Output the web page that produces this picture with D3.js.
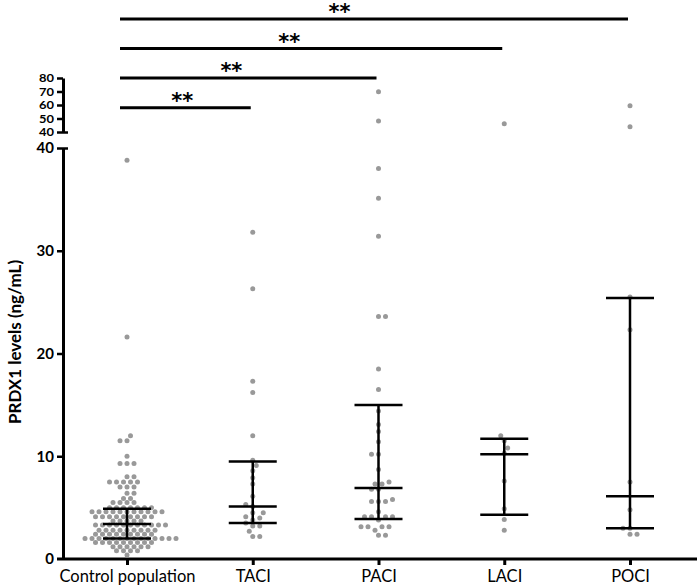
<!DOCTYPE html>
<html>
<head>
<meta charset="utf-8">
<script src="https://cdnjs.cloudflare.com/ajax/libs/d3/7.8.5/d3.min.js"></script>
<style>
  body { margin: 0; background: #fff; }
  text { font-family: Lato, "Liberation Sans", sans-serif; fill: #000; }
</style>
</head>
<body>
<div id="chart"></div>
<script>
var groups = ["Control population", "TACI", "PACI", "LACI", "POCI"];

var controlVals = [38.8, 21.6, 12.0, 11.5, 11.5, 10.0, 9.3, 9.3, 9.3, 8.0, 8.0,
  7.5, 7.5, 7.5, 7.5, 7.5, 7.0, 7.0, 7.0, 6.4, 6.4, 5.9, 5.9, 5.5, 5.5, 5.5, 5.5,
  5.0, 5.0, 5.0, 5.0, 5.0, 5.0, 5.0,
  4.6, 4.6, 4.6, 4.6, 4.6, 4.6, 4.6, 4.6, 4.6, 4.6, 4.6,
  4.1, 4.1, 4.1, 4.1, 4.1, 4.1, 4.1, 4.1, 4.1,
  3.7, 3.7, 3.7, 3.7, 3.7,
  3.3, 3.3, 3.3, 3.3, 3.3, 3.3, 3.3, 3.3, 3.3, 3.3, 3.3,
  2.8, 2.8, 2.8, 2.8, 2.8, 2.8, 2.8, 2.8, 2.8,
  2.4, 2.4, 2.4, 2.4, 2.4, 2.4, 2.4, 2.4, 2.4,
  2.0, 2.0, 2.0, 2.0, 2.0, 2.0, 2.0, 2.0, 2.0, 2.0, 2.0, 2.0, 2.0, 2.0,
  1.6, 1.6, 1.6, 1.6, 1.6, 1.6, 1.6, 1.6, 1.6,
  1.2, 1.2, 1.2, 1.2, 1.2, 1.2,
  0.8, 0.8, 0.8, 0.8, 0.4];
var taciVals = [31.8, 26.3, 17.3, 16.2, 12.0, 9.6, 9.1, 8.6, 7.9, 7.3, 6.1, 5.3, 5.1,
  4.5, 4.5, 4.1, 4.0, 3.8, 3.5, 3.2, 3.2, 2.7, 2.2, 2.2];
var paciVals = [69.9, 48.1, 38.0, 35.1, 31.4, 23.6, 23.6, 18.5, 16.5, 14.4, 13.1, 12.4,
  11.4, 10.2, 10.2, 8.7, 7.5, 7.3, 7.3, 6.8, 6.8, 5.8, 5.6, 5.6, 5.6, 4.6,
  4.1, 4.1, 4.1, 4.1, 3.8, 3.15, 3.15, 3.15, 3.15, 2.8, 2.3, 2.3];
var laciVals = [46.1, 12.0, 11.5, 10.8, 10.3, 7.6, 4.9, 3.85, 2.8];
var pociVals = [59.5, 43.9, 25.5, 22.3, 7.5, 4.8, 3.0, 3.0, 2.4, 2.4];

// median and interquartile range shown as error bars
var medians = [3.4, 5.1, 6.9, 10.2, 6.1];
var q1s = [2.0, 3.5, 3.9, 4.3, 3.0];
var q3s = [4.9, 9.5, 15.0, 11.7, 25.4];

// broken y axis
var lowTicks = [0, 10, 20, 30, 40];
var highTicks = [40, 50, 60, 70, 80];

// significance brackets: compared group and where the stars sit (group index units)
var sigTargets = ["TACI", "PACI", "LACI", "POCI"];
var sigLabels = ["**", "**", "**", "**"];
var starPos = [0.44, 0.83, 1.29, 1.69];

var width = 697, height = 587;
var axisX = 63;

var svg = d3.select("#chart").append("svg")
    .attr("width", width).attr("height", height)
    .attr("viewBox", [0, 0, width, height]);

var x = d3.scalePoint().domain(groups).range([127, 630]);
var xi = d3.scaleLinear().domain([0, groups.length - 1]).range([127, 630]);
var yLow = d3.scaleLinear().domain([0, 40]).range([559, 148]);
var yHigh = d3.scaleLinear().domain([40, 80]).range([132, 78]);
function yPos(v) { return v <= 40 ? yLow(v) : yHigh(v); }

// y axis, two segments
var gLow = svg.append("g")
    .attr("transform", "translate(" + axisX + ",0)")
    .call(d3.axisLeft(yLow).tickValues(lowTicks).tickSize(6).tickPadding(3).tickSizeOuter(0));
var gHigh = svg.append("g")
    .attr("transform", "translate(" + axisX + ",0)")
    .call(d3.axisLeft(yHigh).tickValues(highTicks).tickSize(6).tickPadding(3).tickSizeOuter(0));

[gLow, gHigh].forEach(function(g, i) {
  g.select(".domain").attr("stroke", "#000").attr("stroke-width", 3);
  g.selectAll(".tick line").attr("stroke", "#000").attr("stroke-width", 2.5);
  g.selectAll(".tick text")
    .style("font-family", "Lato, sans-serif")
    .style("font-weight", "bold")
    .style("font-size", i == 0 ? "15px" : "11px")
    .attr("fill", "#000");
});
// the squeezed upper labels keep the same width as the lower ones
gHigh.selectAll(".tick text")
  .attr("textLength", 15).attr("lengthAdjust", "spacingAndGlyphs");
// caps at the break
gLow.selectAll(".tick").filter(function(d) { return d === 40; })
  .select("line").attr("x2", 5).attr("x1", -6);
gHigh.selectAll(".tick").filter(function(d) { return d === 40; })
  .select("line").attr("x2", 5).attr("x1", -6);
gLow.selectAll(".tick").filter(function(d) { return d === 0; }).select("line").remove();

// x axis
var gx = svg.append("g")
    .attr("transform", "translate(0,559)")
    .call(d3.axisBottom(x).tickSize(6).tickPadding(5).tickSizeOuter(0));
gx.select(".domain").attr("d", "M" + (axisX - 6) + ",0H" + width)
  .attr("stroke", "#000").attr("stroke-width", 3);
gx.selectAll(".tick line").attr("stroke", "#000").attr("stroke-width", 3);
gx.selectAll(".tick text")
  .style("font-family", "Lato, sans-serif")
  .style("font-size", "16.5px")
  .attr("fill", "#000");

// y label
svg.append("text")
  .attr("transform", "translate(21,342) rotate(-90)")
  .attr("text-anchor", "middle")
  .style("font-weight", "bold")
  .style("font-size", "17px")
  .text("PRDX1 levels (ng/mL)");

// beeswarm offsets on a half-step grid, alternating sides
function swarm(vals, step, D) {
  var pts = vals.map(function(v) { return {v: v, y: yPos(v), dx: 0}; })
    .sort(function(a, b) { return b.y - a.y; });
  var placed = [], side = 1;
  function ok(p, off) {
    return placed.every(function(q) {
      var dy = q.y - p.y, dx = q.dx - off;
      return dx * dx + dy * dy >= D * D;
    });
  }
  pts.forEach(function(p) {
    for (var m = 0; m < 200; m += step / 2) {
      var cands = m === 0 ? [0] : [side * m, -side * m];
      var f = cands.filter(function(c) { return ok(p, c); });
      if (f.length) {
        p.dx = f[0];
        if (m > 0) side = -Math.sign(f[0]);
        break;
      }
    }
    placed.push(p);
  });
  return pts;
}

var allVals = [controlVals, taciVals, paciVals, laciVals, pociVals];

allVals.forEach(function(vals, i) {
  var cx = x(groups[i]);
  svg.append("g").selectAll("circle")
    .data(swarm(vals, 7, 5.2))
    .enter().append("circle")
    .attr("cx", function(d) { return cx + d.dx; })
    .attr("cy", function(d) { return d.y; })
    .attr("r", 2.5)
    .attr("fill", "#999");
});

// median + IQR bars
var bars = svg.append("g").attr("stroke", "#000").attr("stroke-width", 2.5);
groups.forEach(function(g, i) {
  var cx = x(g), hw = 24;
  bars.append("line").attr("x1", cx).attr("x2", cx).attr("y1", yPos(q1s[i])).attr("y2", yPos(q3s[i]));
  [q1s[i], medians[i], q3s[i]].forEach(function(v) {
    bars.append("line").attr("x1", cx - hw).attr("x2", cx + hw).attr("y1", yPos(v)).attr("y2", yPos(v));
  });
});

// significance brackets
sigTargets.forEach(function(t, i) {
  var by = 107.7 - i * 29.6;
  svg.append("line")
    .attr("x1", x(groups[0]) - 7).attr("x2", x(t) - 2)
    .attr("y1", by).attr("y2", by)
    .attr("stroke", "#000").attr("stroke-width", 3);
  svg.append("text")
    .attr("x", xi(starPos[i]))
    .attr("y", by)
    .attr("text-anchor", "middle")
    .style("font-family", "'DejaVu Sans', sans-serif")
    .style("font-weight", "bold")
    .style("font-size", "21px")
    .text(sigLabels[i]);
});
</script>
</body>
</html>
